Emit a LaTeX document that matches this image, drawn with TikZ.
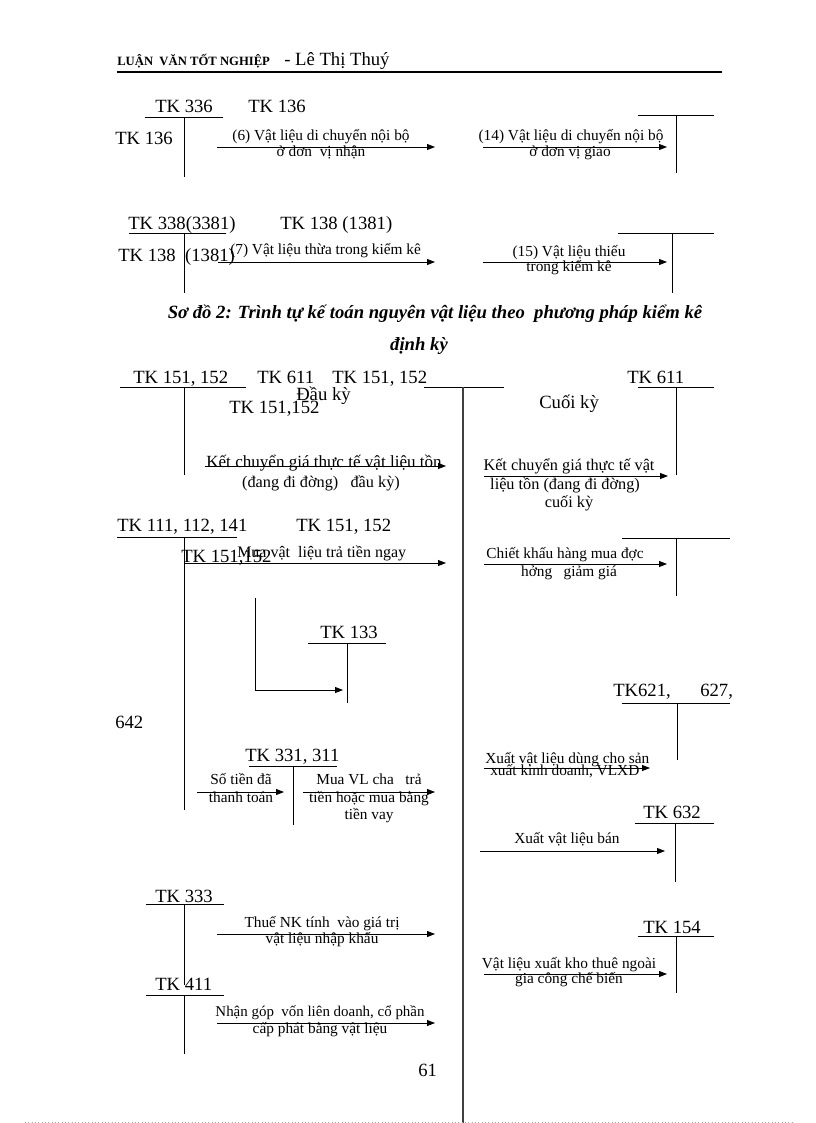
\documentclass[tikz,border=0pt]{standalone}
\usepackage{fontspec}
\setmainfont{Liberation Serif}
\usetikzlibrary{arrows.meta}
\begin{document}
\begin{tikzpicture}[x=0.75pt,y=-0.75pt,
  tk/.style={font=\fontsize{14}{16}\selectfont, inner sep=0pt, anchor=base west},
  lb/.style={font=\fontsize{11.5}{13}\selectfont, inner sep=0pt, anchor=base},
  lbw/.style={font=\fontsize{11.5}{13}\selectfont, inner sep=0pt, anchor=base west},
  lbl/.style={font=\fontsize{12.2}{14}\selectfont, inner sep=0pt, anchor=base},
  acc/.style={line width=0.6pt},
  arr/.style={line width=0.6pt, -{Triangle[length=6pt,width=4.5pt]}},
  mid/.style={line width=1.1pt, draw=black!75}]
\useasboundingbox (0,0) rectangle (816,1123);
% header
\node[inner sep=0pt, anchor=base west, font=\bfseries\fontsize{9.5}{11}\selectfont] (hd1) at (117,66) {LUẬN\ \ VĂN TỐT NGHIỆP};
\node[tk] (hd2) at (284,66) {- Lê Thị Thuý};
\coordinate (hr1) at (117,72); \coordinate (hr2) at (722,72);
\draw[line width=1.5pt] (hr1) -- (hr2);

% ---------- section 1
\node[tk] (t336) at (155,113) {TK 336};
\node[tk] (t136a) at (248,113) {TK 136};
\node[tk] (t136b) at (115,145) {TK 136};
\coordinate (r1a) at (145,117); \coordinate (r1b) at (223,117);
\coordinate (v1a) at (184,117); \coordinate (v1b) at (184,177);
\draw[acc] (r1a) -- (r1b); \draw[acc] (v1a) -- (v1b);
\coordinate (a6s) at (217,147); \coordinate (a6e) at (435,147);
\draw[arr] (a6s) -- (a6e);
\node[lb] (l6a) at (321,141) {(6) Vật liệu di chuyển nội bộ};
\node[lb] (l6b) at (321,157) {ở đơn\ \ vị nhận};
\coordinate (a14s) at (483,147); \coordinate (a14e) at (667,147);
\draw[arr] (a14s) -- (a14e);
\node[lb] (l14a) at (571,141) {(14) Vật liệu di chuyển nội bộ};
\node[lb] (l14b) at (570,157) {ở đơn vị giao};
\coordinate (r2a) at (638,115); \coordinate (r2b) at (714,115);
\coordinate (v2a) at (676,115); \coordinate (v2b) at (676,173);
\draw[acc] (r2a) -- (r2b); \draw[acc] (v2a) -- (v2b);

% ---------- section 2
\node[tk] (t338) at (128,229) {TK 338(3381)};
\node[tk] (t138a) at (280,229) {TK 138 (1381)};
\node[tk] (t138b) at (118,261) {TK 138\ \ (1381)};
\coordinate (r3a) at (129,233); \coordinate (r3b) at (226,233);
\coordinate (v3a) at (184,233); \coordinate (v3b) at (184,293);
\draw[acc] (r3a) -- (r3b); \draw[acc] (v3a) -- (v3b);
\coordinate (a7s) at (218,262); \coordinate (a7e) at (435,262);
\draw[arr] (a7s) -- (a7e);
\node[lbw] (l7) at (230,254) {(7) Vật liệu thừa trong kiểm kê};
\coordinate (a15s) at (483,262); \coordinate (a15e) at (667,262);
\draw[arr] (a15s) -- (a15e);
\node[lb] (l15a) at (569,256) {(15) Vật liệu thiếu};
\node[lb] (l15b) at (569,272) {trong kiểm kê};
\coordinate (r4a) at (618,233); \coordinate (r4b) at (714,233);
\coordinate (v4a) at (672,233); \coordinate (v4b) at (672,293);
\draw[acc] (r4a) -- (r4b); \draw[acc] (v4a) -- (v4b);

% ---------- title
\node[inner sep=0pt, anchor=base, font=\bfseries\itshape\fontsize{14}{16}\selectfont] (ti1) at (435,318) {Sơ đồ 2: Trình tự kế toán nguyên vật liệu theo\ \ phương pháp kiểm kê};
\node[inner sep=0pt, anchor=base, font=\bfseries\itshape\fontsize{14}{16}\selectfont] (ti2) at (419,350) {định kỳ};

% ---------- section 3
\node[tk] (t151a) at (133,383) {TK 151, 152};
\node[tk] (t611a) at (257,383) {TK 611};
\node[tk] (t151b) at (332,383) {TK 151, 152};
\node[tk] (t611b) at (627,383) {TK 611};
\node[tk] (dky) at (296,400) {Đầu kỳ};
\node[tk] (t151c) at (229,413) {TK 151,152};
\node[tk] (cky) at (539,408) {Cuối kỳ};
\coordinate (r5a) at (120,387); \coordinate (r5b) at (246,387);
\coordinate (v5a) at (184,387); \coordinate (v5b) at (184,475);
\draw[acc] (r5a) -- (r5b); \draw[acc] (v5a) -- (v5b);
\coordinate (r6a) at (424,387); \coordinate (r6b) at (504,387);
\draw[acc] (r6a) -- (r6b);
\coordinate (vma) at (463,387); \coordinate (vmb) at (463,1123);
\draw[mid] (vma) -- (vmb);
\coordinate (r7a) at (638,387); \coordinate (r7b) at (714,387);
\coordinate (v7a) at (676,387); \coordinate (v7b) at (676,475);
\draw[acc] (r7a) -- (r7b); \draw[acc] (v7a) -- (v7b);
\coordinate (akds) at (205,466); \coordinate (akde) at (446,466);
\draw[arr] (akds) -- (akde);
\node[lbl, font=\fontsize{12.8}{14}\selectfont] (lkd1) at (324,467) {Kết chuyển giá thực tế vật liệu tồn};
\node[lbl] (lkd2) at (321,487) {(đang đi đờng)\ \ \ đầu kỳ)};
\coordinate (akcs) at (484,476); \coordinate (akce) at (668,476);
\draw[arr] (akcs) -- (akce);
\node[lbl] (lkc1) at (569,470) {Kết chuyển giá thực tế vật};
\node[lbl] (lkc2) at (565,489) {liệu tồn (đang đi đờng)};
\node[lbl] (lkc3) at (569,507) {cuối kỳ};

% ---------- section 4
\node[tk] (t111) at (117,531) {TK 111, 112, 141};
\node[tk] (t151d) at (296,531) {TK 151, 152};
\coordinate (r8a) at (117,537); \coordinate (r8b) at (237,537);
\coordinate (v8a) at (184,537); \coordinate (v8b) at (184,810);
\draw[acc] (r8a) -- (r8b); \draw[acc] (v8a) -- (v8b);
\node[tk] (t151e) at (181,562) {TK 151,152};
\node[lbw, font=\fontsize{12}{14}\selectfont] (lmua) at (237,557) {Mua vật\ \ liệu trả tiền ngay};
\coordinate (amua) at (446,563);
\draw[arr] (v8a |- amua) -- (amua);
\coordinate (r9a) at (622,538); \coordinate (r9b) at (730,538);
\coordinate (v9a) at (676,538); \coordinate (v9b) at (676,596);
\draw[acc] (r9a) -- (r9b); \draw[acc] (v9a) -- (v9b);
\coordinate (acks) at (484,564); \coordinate (acke) at (667,564);
\draw[arr] (acks) -- (acke);
\node[lb] (lck1) at (565,558) {Chiết khấu hàng mua đợc};
\node[lb] (lck2) at (569,576) {hởng\ \ \ giảm giá};
\node[tk] (t133) at (320,638) {TK 133};
\coordinate (r10a) at (308,643); \coordinate (r10b) at (386,643);
\coordinate (v10a) at (347,643); \coordinate (v10b) at (347,703);
\draw[acc] (r10a) -- (r10b); \draw[acc] (v10a) -- (v10b);
\coordinate (lsa) at (255,598); \coordinate (lsb) at (255,690); \coordinate (lsc) at (343,690);
\draw[arr] (lsa) -- (lsb) -- (lsc);
\node[tk] (t621) at (613,696) {TK621,};
\node[tk] (t627) at (700,696) {627,};
\node[tk] (t642) at (115,728) {642};
\coordinate (r11a) at (622,703); \coordinate (r11b) at (730,703);
\coordinate (v11a) at (677,703); \coordinate (v11b) at (677,760);
\draw[acc] (r11a) -- (r11b); \draw[acc] (v11a) -- (v11b);

% ---------- section 5
\node[tk] (t331) at (245,761) {TK 331, 311};
\coordinate (r12a) at (249,766); \coordinate (r12b) at (337,766);
\coordinate (v12a) at (293,766); \coordinate (v12b) at (293,825);
\draw[acc] (r12a) -- (r12b); \draw[acc] (v12a) -- (v12b);
\coordinate (asts) at (197,792); \coordinate (aste) at (284,792);
\draw[arr] (asts) -- (aste);
\node[lb] (lst1) at (241,784) {Số tiền đã};
\node[lb] (lst2) at (241,802) {thanh toán};
\coordinate (amvs) at (303,792); \coordinate (amve) at (435,792);
\draw[arr] (amvs) -- (amve);
\node[lb] (lmv1) at (369,784) {Mua VL cha\ \ \ trả};
\node[lb] (lmv2) at (369,802) {tiền hoặc mua bằng};
\node[lb] (lmv3) at (369,819) {tiền vay};
\coordinate (axds) at (484,768); \coordinate (axde) at (650,768);
\draw[arr] (axds) -- (axde);
\node[lbw] (lxd1) at (485,763) {Xuất vật liệu dùng cho sản};
\node[lbw] (lxd2) at (490,775) {xuất kinh doanh, VLXD};
\node[tk] (t632) at (643,818) {TK 632};
\coordinate (r13a) at (635,823); \coordinate (r13b) at (714,823);
\coordinate (v13a) at (675,823); \coordinate (v13b) at (675,882);
\draw[acc] (r13a) -- (r13b); \draw[acc] (v13a) -- (v13b);
\coordinate (axbs) at (480,851); \coordinate (axbe) at (665,851);
\draw[arr] (axbs) -- (axbe);
\node[lb] (lxb) at (567,843) {Xuất vật liệu bán};

% ---------- section 6
\node[tk] (t333) at (155,902) {TK 333};
\coordinate (r14a) at (146,904); \coordinate (r14b) at (224,904);
\coordinate (v14a) at (184,904); \coordinate (v14b) at (184,985);
\draw[acc] (r14a) -- (r14b); \draw[acc] (v14a) -- (v14b);
\coordinate (anks) at (217,934); \coordinate (anke) at (435,934);
\draw[arr] (anks) -- (anke);
\node[lb] (lnk1) at (322,927) {Thuế NK tính\ \ vào giá trị};
\node[lb] (lnk2) at (322,943) {vật liệu nhập khẩu};
\node[tk] (t154) at (643,933) {TK 154};
\coordinate (r15a) at (638,936); \coordinate (r15b) at (714,936);
\coordinate (v15a) at (676,936); \coordinate (v15b) at (676,993);
\draw[acc] (r15a) -- (r15b); \draw[acc] (v15a) -- (v15b);
\coordinate (agcs) at (484,974); \coordinate (agce) at (667,974);
\draw[arr] (agcs) -- (agce);
\node[lb] (lgc1) at (569,968) {Vật liệu xuất kho thuê ngoài};
\node[lb] (lgc2) at (569,983) {gia công chế biến};
\node[tk] (t411) at (155,990) {TK 411};
\coordinate (r16a) at (146,995); \coordinate (r16b) at (224,995);
\coordinate (v16a) at (184,995); \coordinate (v16b) at (184,1054);
\draw[acc] (r16a) -- (r16b); \draw[acc] (v16a) -- (v16b);
\coordinate (agvs) at (217,1023); \coordinate (agve) at (435,1023);
\draw[arr] (agvs) -- (agve);
\node[lb, font=\fontsize{11.2}{13}\selectfont] (lgv1) at (320,1016) {Nhận góp\ \ vốn liên doanh, cổ phần};
\node[lb] (lgv2) at (320,1033) {cấp phát bằng vật liệu};
\node[tk] (p61) at (418,1076) {61};
\coordinate (dla) at (25,1122); \coordinate (dlb) at (792,1122);
\draw[black!35, line width=0.5pt, dotted] (dla) -- (dlb);
\end{tikzpicture}
\end{document}
